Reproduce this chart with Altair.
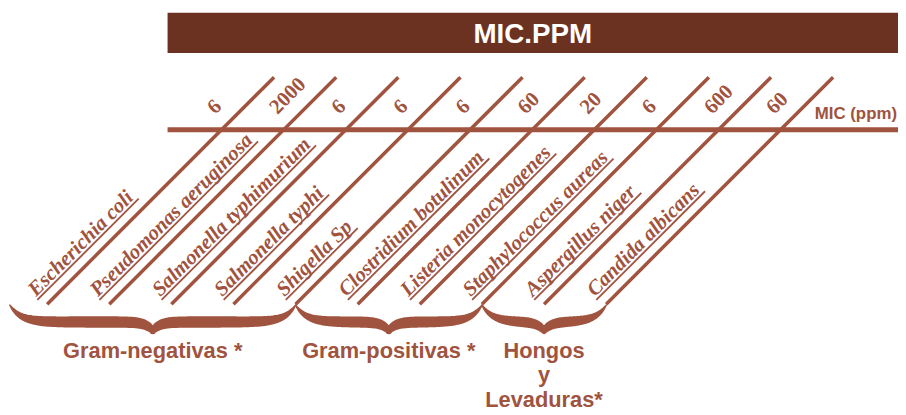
import math
import altair as alt
import pandas as pd

# ---------------- data ----------------
organisms = [
    "Escherichia coli", "Pseudomonas aeruginosa", "Salmonella typhimurium",
    "Salmonella typhi", "Shigella Sp", "Clostridium botulinum",
    "Listeria monocytogenes", "Staphylococcus aureas", "Aspergillus niger",
    "Candida albicans",
]
mic_ppm = [6, 2000, 6, 6, 6, 60, 20, 6, 600, 60]
group_names = ["Gram-negativas *", "Gram-positivas *", "Hongos\ny\nLevaduras*"]
group_last = [4, 7, 9]          # index of the last organism of each group
title_text = "MIC.PPM"
axis_label = "MIC (ppm)"

# ---------------- layout / style ----------------
W, H = 898, 405
U = 62.67            # pixels per organism step
CROSS0 = 215.5       # plot-x of first crossing with the MIC rule
AXIS_Y = 121         # plot-y of MIC rule
UP, DOWN = 53, 176   # diagonal extent above / below the rule (px)
BAR_LEFT = 161       # plot-x where banner and rule start
C_LINE = "#A0533E"
C_BAR = "#6B3222"
SERIF = "Liberation Serif, Times New Roman, serif"
SANS = "Liberation Sans, Arial, sans-serif"
NAME_SIZE = 21

x_min = -CROSS0 / U
x_max = x_min + W / U
y_max = AXIS_Y / U
y_min = y_max - H / U
S = 1 / math.sqrt(2)

xs = alt.Scale(domain=[x_min, x_max], nice=False, zero=False)
ys = alt.Scale(domain=[y_min, y_max], nice=False, zero=False)


def X(f):
    return alt.X(f, type="quantitative", scale=xs, axis=None)


def Y(f):
    return alt.Y(f, type="quantitative", scale=ys, axis=None)


# Times Bold Italic advance widths (per 1000 em) for underline length
TBI = dict(zip(
    " ABCDEFGHIJKLMNOPQRSTUVWXYZabcdefghijklmnopqrstuvwxyz",
    [250, 667, 667, 667, 722, 667, 667, 722, 778, 389, 500, 667, 611, 889, 722,
     722, 611, 722, 667, 556, 611, 722, 667, 889, 667, 611, 611,
     500, 500, 444, 500, 444, 333, 500, 556, 278, 278, 500, 278, 778, 556, 500,
     500, 500, 389, 389, 278, 556, 444, 667, 500, 444, 389]))

org_df = pd.DataFrame({
    "idx": list(range(len(organisms))),
    "name": organisms,
    "mic": [str(v) for v in mic_ppm],
    "tw": [sum(TBI.get(c, 500) for c in n) * NAME_SIZE / 1000 for n in organisms],
})

P_UL, A0 = 10, -4   # underline perpendicular offset / start along line (px)
base = alt.Chart(org_df).transform_calculate(
    bx=f"datum.idx - {DOWN / U}", by=f"{-DOWN / U}",
    tx=f"datum.idx + {UP / U}", ty=f"{UP / U}",
    cx="datum.idx", cy="0",
).transform_calculate(
    ux1=f"datum.bx + ({A0} - {P_UL}) * {S} / {U}",
    uy1=f"datum.by + ({A0} + {P_UL}) * {S} / {U}",
    ux2=f"datum.bx + ({A0} + datum.tw + 4 - {P_UL}) * {S} / {U}",
    uy2=f"datum.by + ({A0} + datum.tw + 4 + {P_UL}) * {S} / {U}",
)

diag = base.mark_rule(color=C_LINE, strokeWidth=3.5).encode(
    x=X("bx"), y=Y("by"), x2=alt.X2("tx"), y2=alt.Y2("ty"))

mic_txt = base.mark_text(
    font=SERIF, fontSize=21, fontWeight="bold", color=C_LINE, angle=315,
    align="left", baseline="alphabetic", dx=6, dy=-15,
).encode(x=X("cx"), y=Y("cy"), text="mic:N")

name_txt = base.mark_text(
    font=SERIF, fontSize=NAME_SIZE, fontWeight="bold", fontStyle="italic",
    color=C_LINE, angle=315, align="left", baseline="alphabetic", dx=-3, dy=-13,
).encode(x=X("bx"), y=Y("by"), text="name:N")

underline = base.mark_rule(color=C_LINE, strokeWidth=1.8).encode(
    x=X("ux1"), y=Y("uy1"), x2=alt.X2("ux2"), y2=alt.Y2("uy2"))

# banner + rule + axis label
single = alt.Chart(pd.DataFrame({"t": [title_text], "a": [axis_label]}))
banner = single.transform_calculate(
    x1=f"{(BAR_LEFT - CROSS0) / U}", x2=f"{x_max}",
    y1=f"{(AXIS_Y - 3) / U}", y2=f"{(AXIS_Y - 43.5) / U}",
).mark_rect(color=C_BAR).encode(x=X("x1"), x2=alt.X2("x2"), y=Y("y1"), y2=alt.Y2("y2"))

banner_txt = single.transform_calculate(
    xc=f"{((BAR_LEFT - CROSS0) / U + x_max) / 2}", yb=f"{(AXIS_Y - 33) / U}",
).mark_text(font=SANS, fontSize=28, fontWeight="bold", color="white",
            align="center", baseline="alphabetic").encode(x=X("xc"), y=Y("yb"), text="t:N")

hrule = single.transform_calculate(
    x1=f"{(BAR_LEFT - CROSS0) / U}", x2=f"{x_max}", y0="0",
).mark_rule(color=C_LINE, strokeWidth=5).encode(x=X("x1"), x2=alt.X2("x2"), y=Y("y0"))

axis_txt = single.transform_calculate(
    xr=f"{x_max - 1 / U}", yb=f"{(AXIS_Y - 110.3) / U}",
).mark_text(font=SANS, fontSize=17, fontWeight="bold", color=C_LINE,
            align="right", baseline="alphabetic").encode(x=X("xr"), y=Y("yb"), text="a:N")

# braces (shape spans each group's range of diagonal lines)
top_u = -DOWN / U - 1 / U
brace_rows, label_rows = [], []
for g, last in enumerate(group_last):
    left_i = group_last[g - 1] if g > 0 else -0.6
    lu = left_i - DOWN / U
    ru = last - DOWN / U
    half = (ru - lu) * U / 2
    n = 60
    for side in (0, 1):
        for k in range(n + 1):
            f = k / n
            if side == 0:
                de = half * f
                xp = de
            else:
                de = half * (1 - f)
                xp = half + half * f
            dt = half - de
            d = 17 * (1 - math.exp(-de / 11)) + 9 * math.exp(-dt / 7)
            w = 1.5 + 10 * (1 - math.exp(-de / 17)) - 5 * math.exp(-dt / 7)
            brace_rows.append(dict(grp=g, seq=side * (n + 1) + k,
                                   bxp=lu + xp / U, byp=top_u - d / U,
                                   wid=w))
    label_rows.append(dict(label=group_names[g], lx=(lu + ru) / 2,
                           ly=top_u - 53 / U))

braces = alt.Chart(pd.DataFrame(brace_rows)).mark_trail(color=C_LINE).encode(
    x=X("bxp"), y=Y("byp"),
    size=alt.Size("wid", type="quantitative", scale=None),
    detail=alt.Detail("grp", type="nominal"),
    order=alt.Order("seq", type="quantitative"),
)

group_txt = alt.Chart(pd.DataFrame(label_rows)).mark_text(
    font=SANS, fontSize=22, fontWeight="bold", color=C_LINE, align="center",
    baseline="alphabetic", lineBreak="\n", lineHeight=25,
).encode(x=X("lx"), y=Y("ly"), text="label:N")

chart = alt.layer(
    banner, banner_txt, hrule, diag, underline, name_txt, mic_txt, axis_txt,
    braces, group_txt,
).properties(
    width=W, height=H, padding=0,
    autosize=alt.AutoSizeParams(type="none"),
).configure_view(stroke=None)

chart.save("out.html", embed_options={"renderer": "svg", "actions": False})
